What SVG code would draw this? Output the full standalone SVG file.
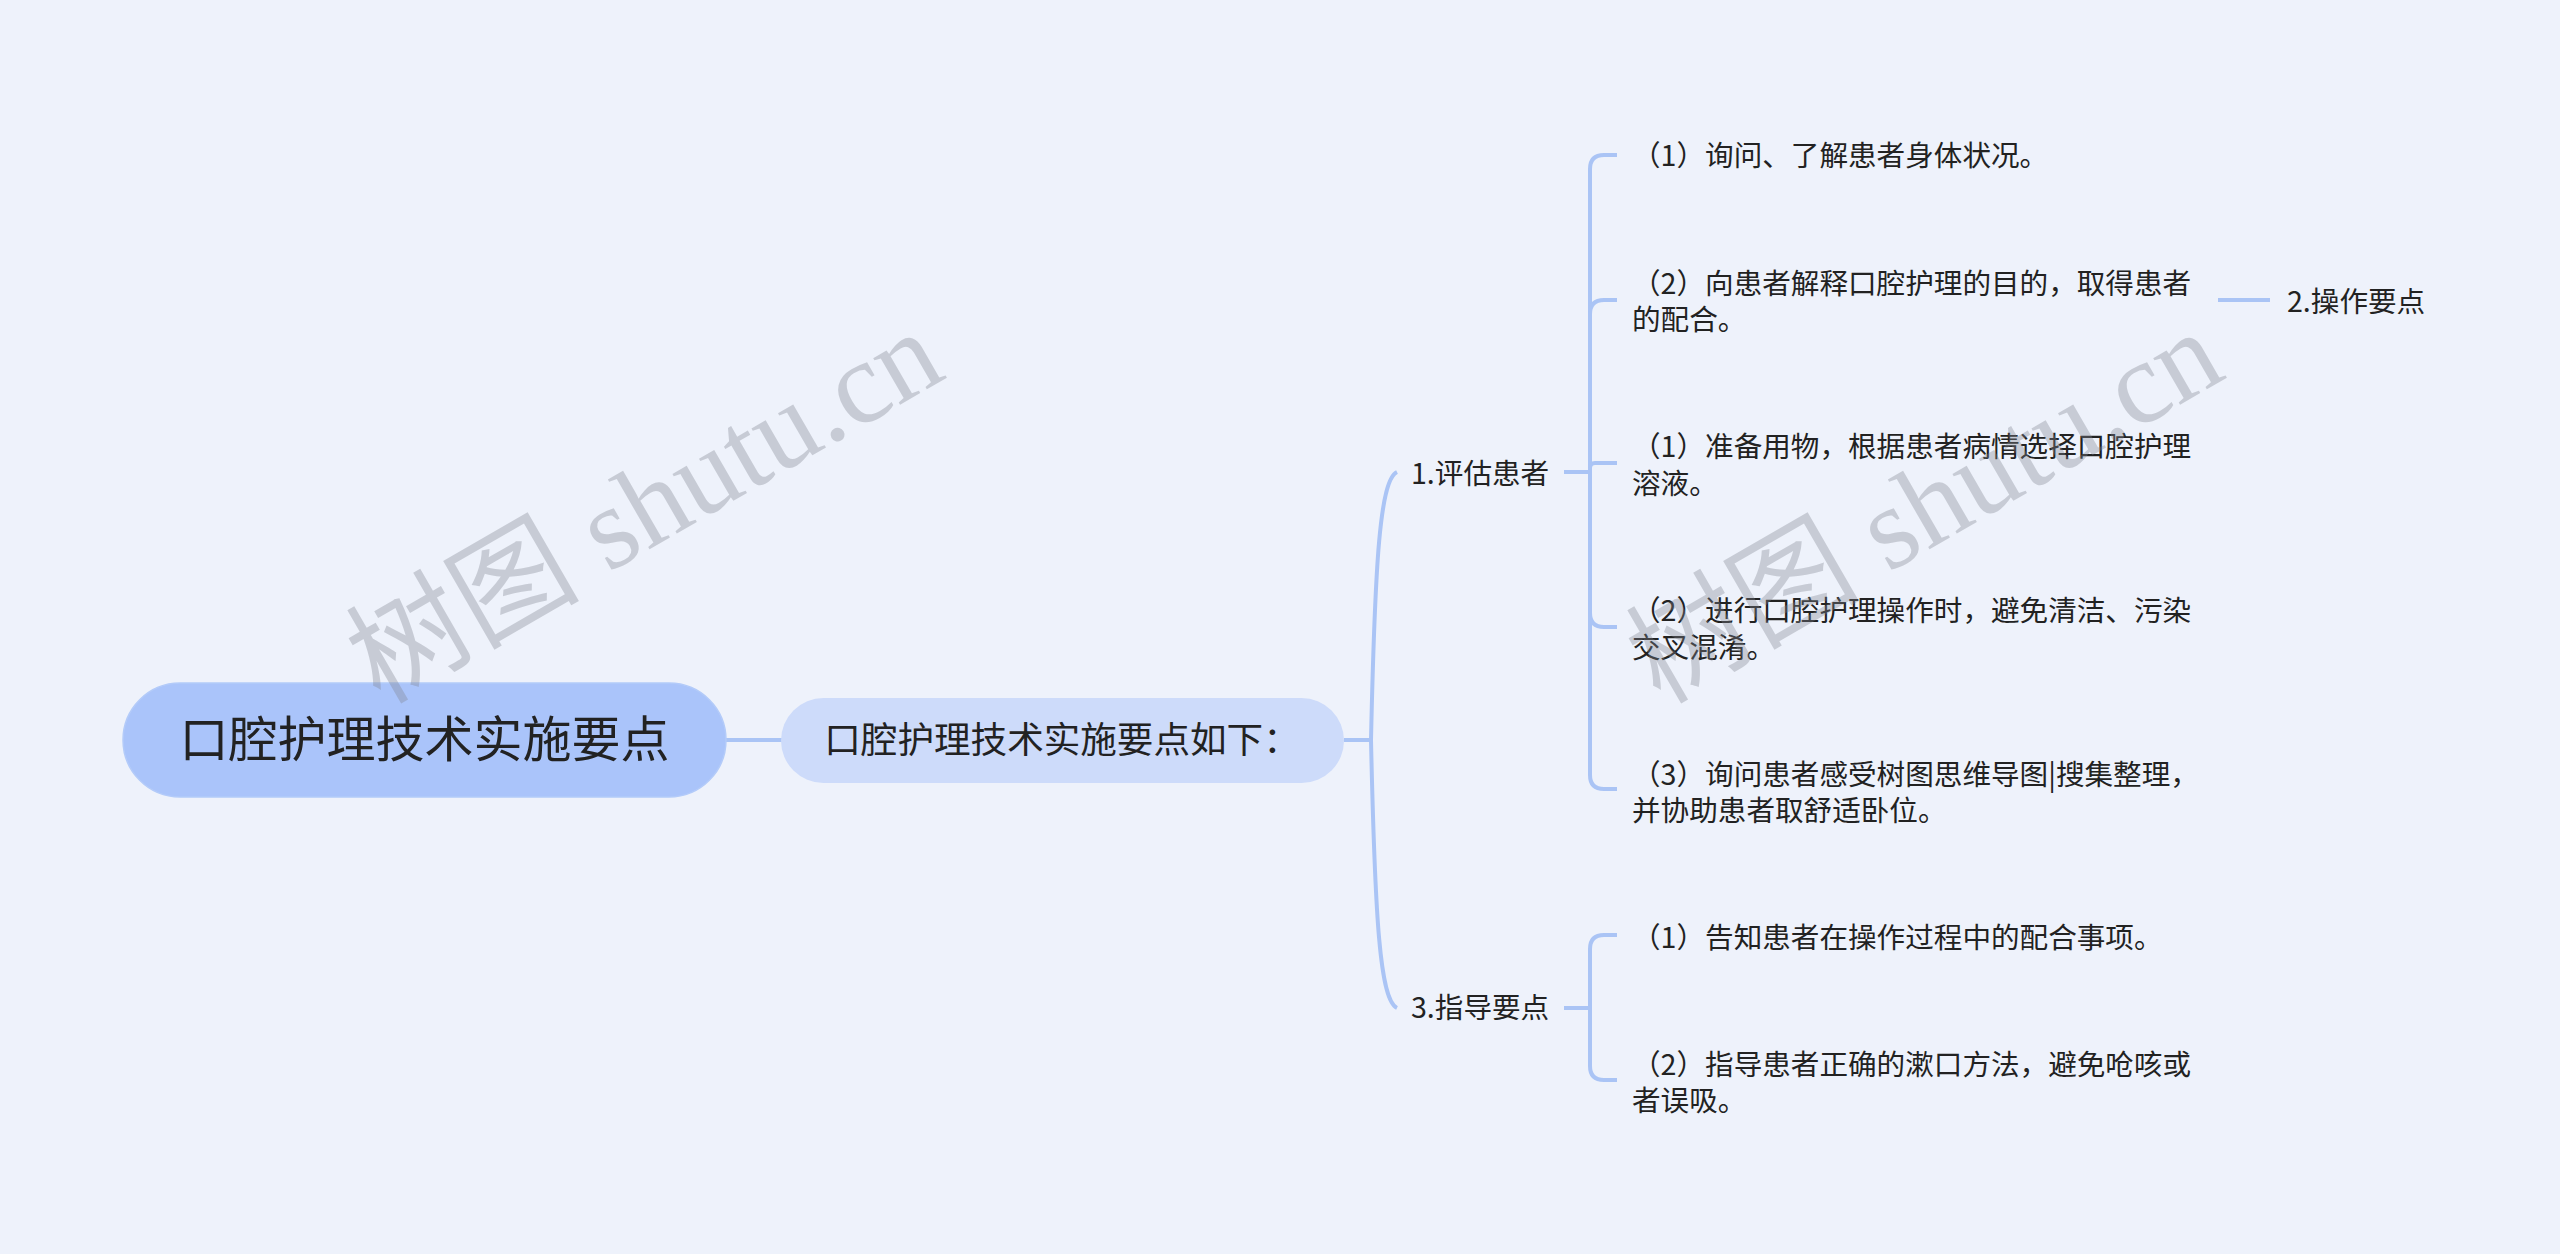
<svg xmlns="http://www.w3.org/2000/svg" width="2560" height="1254" viewBox="0 0 2560 1254">
<style>
.bg{fill:#eef2fb}
.conn{fill:none;stroke:#aac4f5;stroke-width:4;stroke-linecap:butt}
.t{font-family:"Noto Sans CJK SC","Noto Sans",sans-serif;fill:#222222}
.leaf{font-size:28.6px}
.wm{font-family:"Liberation Serif","Noto Sans CJK SC",serif;font-size:117px;fill:#808590;opacity:0.35}
</style>
<rect class="bg" x="0" y="0" width="2560" height="1254"/>
<g id="connectors">
<path class="conn" d="M725,740 L782,740"/>
<path class="conn" d="M1344,740 L1371,740"/>
<path class="conn" d="M1371,740 C1375,560 1380,480 1397,472"/>
<path class="conn" d="M1371,740 C1375,920 1380,1000 1397,1008"/>
<path class="conn" d="M1564,472 L1590,472"/>
<path class="conn" d="M1590,472 L1590,169 Q1590,155 1604,155 L1617,155"/>
<path class="conn" d="M1590,472 L1590,314 Q1590,300 1604,300 L1617,300"/>
<path class="conn" d="M1590,472 L1590,468 Q1590,463 1595,463 L1617,463"/>
<path class="conn" d="M1590,472 L1590,613 Q1590,627 1604,627 L1617,627"/>
<path class="conn" d="M1590,472 L1590,775 Q1590,789 1604,789 L1617,789"/>
<path class="conn" d="M2218,300 L2270,300"/>
<path class="conn" d="M1564,1008 L1590,1008"/>
<path class="conn" d="M1590,1008 L1590,949 Q1590,935 1604,935 L1617,935"/>
<path class="conn" d="M1590,1008 L1590,1066 Q1590,1080 1604,1080 L1617,1080"/>
</g>
<g id="root">
<rect x="123" y="683" width="603" height="114" rx="57" fill="#aac4fa" stroke="#b3cbf9" stroke-width="1.5"/>
<text class="t" x="424.5" y="757" font-size="49" text-anchor="middle">口腔护理技术实施要点</text>
</g>
<g id="node-summary">
<rect x="781" y="698" width="563" height="85" rx="42.5" fill="#cddbfa"/>
<text class="t" x="1062" y="753" font-size="36.6" text-anchor="middle">口腔护理技术实施要点如下：</text>
</g>
<g id="node-assess">
<text class="t leaf" x="1411" y="484">1.评估患者</text>
</g>
<g id="node-guide">
<text class="t leaf" x="1411" y="1018">3.指导要点</text>
</g>
<g id="leaf-a1">
<text class="t leaf" x="1632" y="166">（1）询问、了解患者身体状况。</text>
</g>
<g id="leaf-a2">
<text class="t leaf" x="1632" y="294">（2）向患者解释口腔护理的目的，取得患者</text>
<text class="t leaf" x="1632" y="330">的配合。</text>
</g>
<g id="node-op">
<text class="t leaf" x="2287" y="312">2.操作要点</text>
</g>
<g id="leaf-a3">
<text class="t leaf" x="1632" y="457">（1）准备用物，根据患者病情选择口腔护理</text>
<text class="t leaf" x="1632" y="494">溶液。</text>
</g>
<g id="leaf-a4">
<text class="t leaf" x="1632" y="621">（2）进行口腔护理操作时，避免清洁、污染</text>
<text class="t leaf" x="1632" y="658">交叉混淆。</text>
</g>
<g id="leaf-a5">
<text class="t leaf" x="1632" y="785">（3）询问患者感受树图思维导图|搜集整理，</text>
<text class="t leaf" x="1632" y="821">并协助患者取舒适卧位。</text>
</g>
<g id="leaf-g1">
<text class="t leaf" x="1632" y="948">（1）告知患者在操作过程中的配合事项。</text>
</g>
<g id="leaf-g2">
<text class="t leaf" x="1632" y="1075">（2）指导患者正确的漱口方法，避免呛咳或</text>
<text class="t leaf" x="1632" y="1111">者误吸。</text>
</g>
<g id="watermarks">
<text class="wm" transform="translate(380,705) rotate(-30)">树图 shutu.cn</text>
<text class="wm" transform="translate(1660,705) rotate(-30)">树图 shutu.cn</text>
</g>
</svg>
